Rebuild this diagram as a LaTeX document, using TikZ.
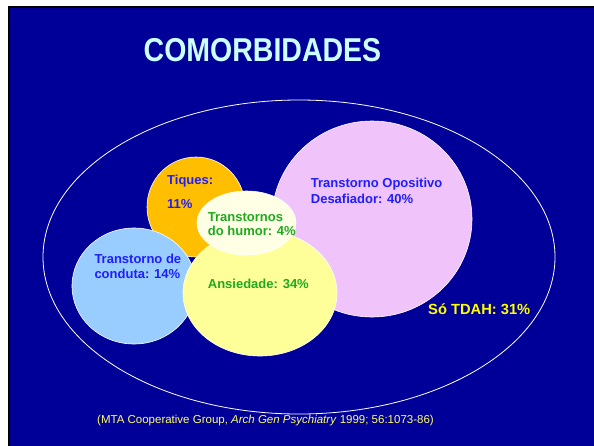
\documentclass[tikz,border=0pt]{standalone}
\usepackage{fontspec}
\usepackage{graphicx}
\setmainfont{Liberation Sans}
\definecolor{bgblue}{RGB}{0,0,153}
\definecolor{pinkc}{RGB}{240,195,250}
\definecolor{orangec}{RGB}{255,190,0}
\definecolor{lblue}{RGB}{153,204,255}
\definecolor{yellowc}{RGB}{255,255,153}
\definecolor{humorc}{RGB}{255,255,230}
\definecolor{bluetxt}{RGB}{30,30,255}
\definecolor{greentxt}{RGB}{30,170,30}
\definecolor{titlec}{RGB}{204,255,255}
\definecolor{citec}{RGB}{255,255,102}
\definecolor{tdahc}{RGB}{255,255,0}
\begin{document}
\begin{tikzpicture}[x=1pt,y=-1pt,
  blob/.style={draw=white,line width=0.6pt},
  lbl/.style={inner sep=0pt,anchor=base west,font=\bfseries\fontsize{13}{15}\selectfont},
  bl/.style={lbl,text=bluetxt},
  gr/.style={lbl,text=greentxt}]
\useasboundingbox (0,0) rectangle (594,445);
\fill[white] (0,0) rectangle (594,445);
\begin{scope}
\clip (0,0) rectangle (594,445);
\draw[fill=bgblue,draw=black,line width=1.5pt] (9,7) rectangle (600,452);
\end{scope}
\node[inner sep=0pt,anchor=base,text=titlec,font=\bfseries\fontsize{28.5}{30}\selectfont] (title) at (262.5,61) {\scalebox{1}[1.16]{COMORBIDADES}};
% outer ellipse
\draw[white,line width=0.8pt] (299,257) ellipse [x radius=256pt,y radius=157pt];
% circles
\draw[blob,fill=orangec] (196,207) ellipse [x radius=49pt,y radius=50pt];
\draw[blob,fill=lblue] (134,286) ellipse [x radius=62pt,y radius=58pt];
\draw[blob,fill=pinkc] (372,219) ellipse [x radius=100pt,y radius=98pt];
\draw[blob,fill=yellowc] (260,293) ellipse [x radius=77pt,y radius=63pt];
\draw[blob,fill=humorc] (246.5,223) ellipse [x radius=49.5pt,y radius=32pt];
% labels
\node[bl] (tq1) at (167,184.5) {Tiques:};
\node[bl] (tq2) at (167,208) {11\%};
\node[gr] (hm1) at (207.7,221) {Transtornos};
\node[gr] (hm2) at (207.7,235.7) {do humor: 4\%};
\node[bl] (cd1) at (94.3,263.3) {Transtorno de};
\node[bl] (cd2) at (94.3,278.7) {conduta: 14\%};
\node[gr] (an) at (207.7,288.3) {Ansiedade: 34\%};
\node[bl] (op1) at (310.7,187.7) {Transtorno Opositivo};
\node[bl] (op2) at (310.7,203.3) {Desafiador: 40\%};
\node[lbl,text=tdahc,font=\bfseries\fontsize{14.7}{16}\selectfont] (td) at (428,314) {Só TDAH: 31\%};
\node[inner sep=0pt,anchor=base west,text=citec,font=\fontsize{11.5}{13}\selectfont] (cite) at (97,423.3) {(MTA Cooperative Group, \textit{Arch Gen Psychiatry} 1999; 56:1073-86)};
\end{tikzpicture}
\end{document}
